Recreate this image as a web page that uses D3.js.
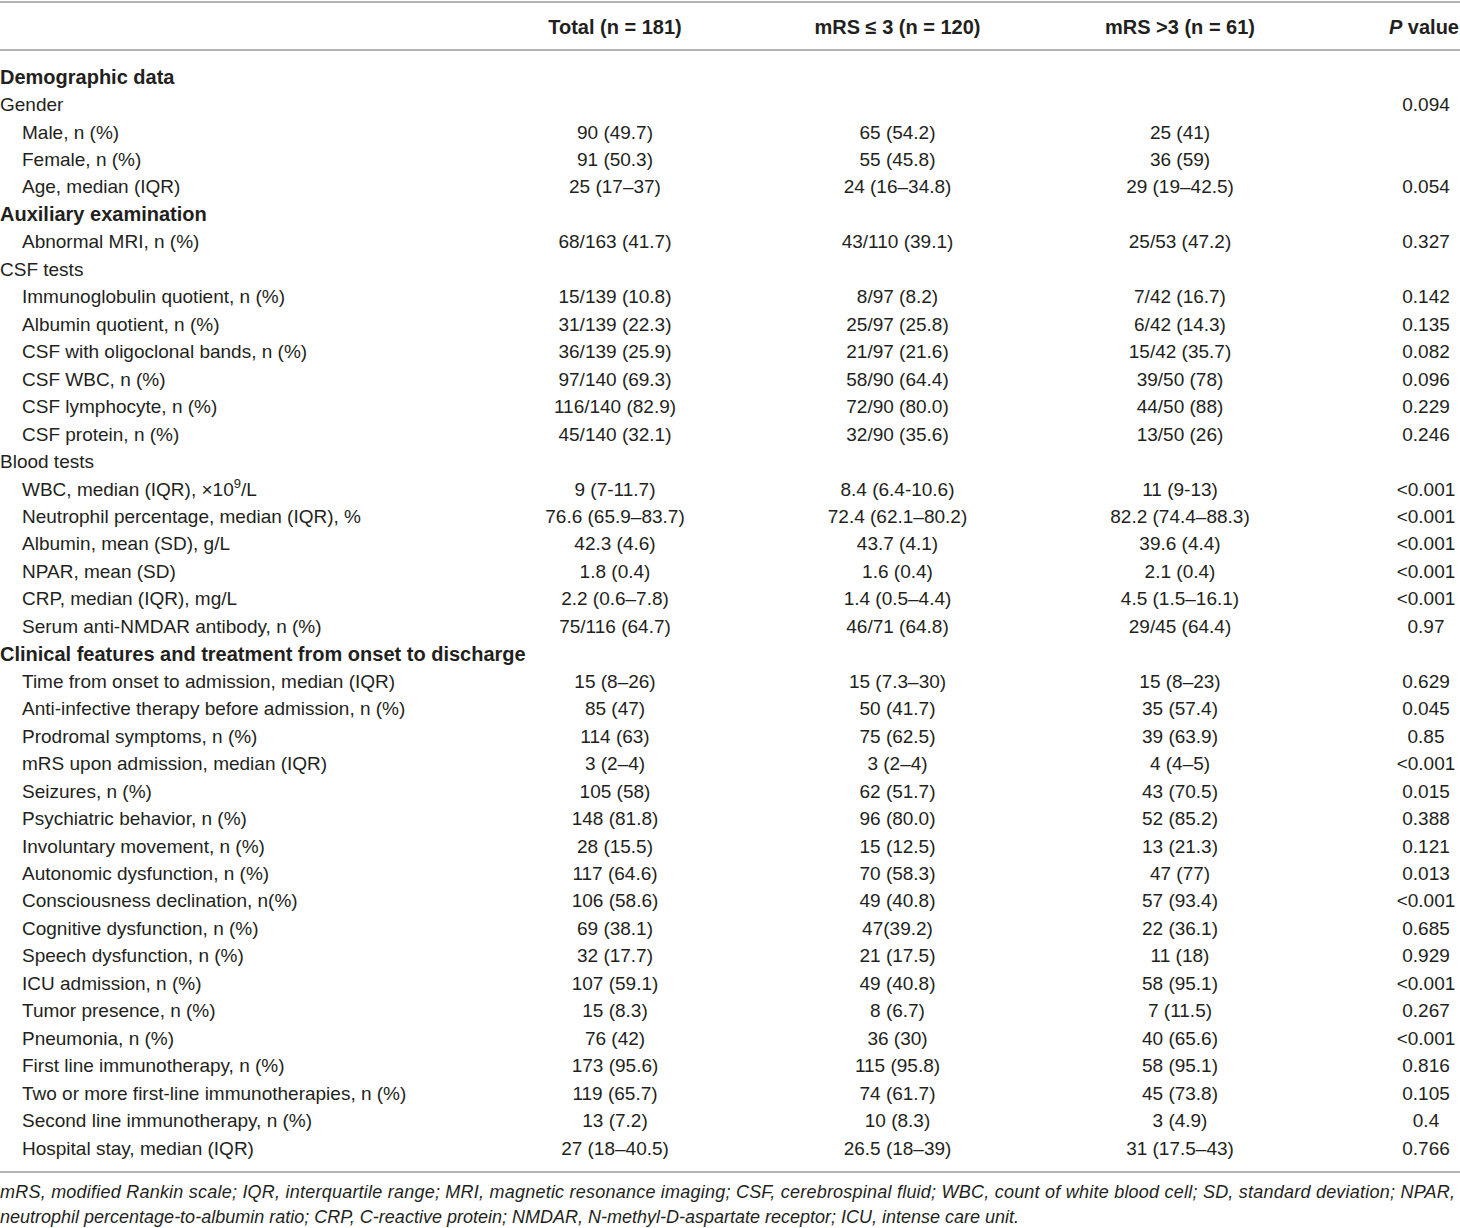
<!DOCTYPE html>
<html>
<head>
<meta charset="utf-8">
<script src="https://cdn.jsdelivr.net/npm/d3@7"></script>
<style>
  body { margin: 0; background: #fff; }
  svg text { font-family: "Liberation Sans", Arial, sans-serif; fill: #231f20; }
</style>
</head>
<body>
<div id="table"></div>
<script>
const headers = ["", "Total (n = 181)", "mRS \u2264 3 (n = 120)", "mRS >3 (n = 61)", "P value"];

// level 0 = section heading (bold), 1 = group label, 2 = indented item
const labels = [
  ["Demographic data", 0],
  ["Gender", 1],
  ["Male, n (%)", 2],
  ["Female, n (%)", 2],
  ["Age, median (IQR)", 2],
  ["Auxiliary examination", 0],
  ["Abnormal MRI, n (%)", 2],
  ["CSF tests", 1],
  ["Immunoglobulin quotient, n (%)", 2],
  ["Albumin quotient, n (%)", 2],
  ["CSF with oligoclonal bands, n (%)", 2],
  ["CSF WBC, n (%)", 2],
  ["CSF lymphocyte, n (%)", 2],
  ["CSF protein, n (%)", 2],
  ["Blood tests", 1],
  ["WBC, median (IQR), \u00d710^9/L", 2],
  ["Neutrophil percentage, median (IQR), %", 2],
  ["Albumin, mean (SD), g/L", 2],
  ["NPAR, mean (SD)", 2],
  ["CRP, median (IQR), mg/L", 2],
  ["Serum anti-NMDAR antibody, n (%)", 2],
  ["Clinical features and treatment from onset to discharge", 0],
  ["Time from onset to admission, median (IQR)", 2],
  ["Anti-infective therapy before admission, n (%)", 2],
  ["Prodromal symptoms, n (%)", 2],
  ["mRS upon admission, median (IQR)", 2],
  ["Seizures, n (%)", 2],
  ["Psychiatric behavior, n (%)", 2],
  ["Involuntary movement, n (%)", 2],
  ["Autonomic dysfunction, n (%)", 2],
  ["Consciousness declination, n(%)", 2],
  ["Cognitive dysfunction, n (%)", 2],
  ["Speech dysfunction, n (%)", 2],
  ["ICU admission, n (%)", 2],
  ["Tumor presence, n (%)", 2],
  ["Pneumonia, n (%)", 2],
  ["First line immunotherapy, n (%)", 2],
  ["Two or more first-line immunotherapies, n (%)", 2],
  ["Second line immunotherapy, n (%)", 2],
  ["Hospital stay, median (IQR)", 2]
];

const totalValues = [
  "", "", "90 (49.7)", "91 (50.3)", "25 (17\u201337)",
  "", "68/163 (41.7)",
  "", "15/139 (10.8)", "31/139 (22.3)", "36/139 (25.9)", "97/140 (69.3)", "116/140 (82.9)", "45/140 (32.1)",
  "", "9 (7-11.7)", "76.6 (65.9\u201383.7)", "42.3 (4.6)", "1.8 (0.4)", "2.2 (0.6\u20137.8)", "75/116 (64.7)",
  "", "15 (8\u201326)", "85 (47)", "114 (63)", "3 (2\u20134)", "105 (58)", "148 (81.8)", "28 (15.5)",
  "117 (64.6)", "106 (58.6)", "69 (38.1)", "32 (17.7)", "107 (59.1)", "15 (8.3)", "76 (42)",
  "173 (95.6)", "119 (65.7)", "13 (7.2)", "27 (18\u201340.5)"
];

const lowValues = [
  "", "", "65 (54.2)", "55 (45.8)", "24 (16\u201334.8)",
  "", "43/110 (39.1)",
  "", "8/97 (8.2)", "25/97 (25.8)", "21/97 (21.6)", "58/90 (64.4)", "72/90 (80.0)", "32/90 (35.6)",
  "", "8.4 (6.4-10.6)", "72.4 (62.1\u201380.2)", "43.7 (4.1)", "1.6 (0.4)", "1.4 (0.5\u20134.4)", "46/71 (64.8)",
  "", "15 (7.3\u201330)", "50 (41.7)", "75 (62.5)", "3 (2\u20134)", "62 (51.7)", "96 (80.0)", "15 (12.5)",
  "70 (58.3)", "49 (40.8)", "47(39.2)", "21 (17.5)", "49 (40.8)", "8 (6.7)", "36 (30)",
  "115 (95.8)", "74 (61.7)", "10 (8.3)", "26.5 (18\u201339)"
];

const highValues = [
  "", "", "25 (41)", "36 (59)", "29 (19\u201342.5)",
  "", "25/53 (47.2)",
  "", "7/42 (16.7)", "6/42 (14.3)", "15/42 (35.7)", "39/50 (78)", "44/50 (88)", "13/50 (26)",
  "", "11 (9-13)", "82.2 (74.4\u201388.3)", "39.6 (4.4)", "2.1 (0.4)", "4.5 (1.5\u201316.1)", "29/45 (64.4)",
  "", "15 (8\u201323)", "35 (57.4)", "39 (63.9)", "4 (4\u20135)", "43 (70.5)", "52 (85.2)", "13 (21.3)",
  "47 (77)", "57 (93.4)", "22 (36.1)", "11 (18)", "58 (95.1)", "7 (11.5)", "40 (65.6)",
  "58 (95.1)", "45 (73.8)", "3 (4.9)", "31 (17.5\u201343)"
];

const pValues = [
  "", "0.094", "", "", "0.054",
  "", "0.327",
  "", "0.142", "0.135", "0.082", "0.096", "0.229", "0.246",
  "", "<0.001", "<0.001", "<0.001", "<0.001", "<0.001", "0.97",
  "", "0.629", "0.045", "0.85", "<0.001", "0.015", "0.388", "0.121",
  "0.013", "<0.001", "0.685", "0.929", "<0.001", "0.267", "<0.001",
  "0.816", "0.105", "0.4", "0.766"
];

const footnotes = [
  "mRS, modified Rankin scale; IQR, interquartile range; MRI, magnetic resonance imaging; CSF, cerebrospinal fluid; WBC, count of white blood cell; SD, standard deviation; NPAR,",
  "neutrophil percentage-to-albumin ratio; CRP, C-reactive protein; NMDAR, N-methyl-D-aspartate receptor; ICU, intense care unit."
];

const width = 1460;
const height = 1228;
const fontSize = 19;
const boldSize = 20;

const svg = d3.select("#table")
  .append("svg")
  .attr("width", width)
  .attr("height", height);

// row centers
const y = d3.scaleLinear().domain([0, labels.length - 1]).range([77, 1148]);
// value column centers
const x = d3.scalePoint().domain([1, 2, 3]).range([615, 1180]);
const pX = 1426;

const columns = [totalValues, lowValues, highValues];

// rules
const rule = (yy) => svg.append("line")
  .attr("x1", 0).attr("x2", width)
  .attr("y1", yy).attr("y2", yy)
  .attr("stroke", "#9a9a9a").attr("stroke-width", 1.6);
rule(2);
rule(50);
rule(1172);

// header
const head = svg.append("g").attr("font-weight", "bold").attr("font-size", boldSize);
columns.forEach((_, i) => {
  head.append("text")
    .attr("x", x(i + 1))
    .attr("y", 27)
    .attr("dy", "0.35em")
    .attr("text-anchor", "middle")
    .text(headers[i + 1]);
});
const pHead = head.append("text")
  .attr("x", 1459)
  .attr("y", 27)
  .attr("dy", "0.35em")
  .attr("text-anchor", "end");
pHead.append("tspan").attr("font-style", "italic").text("P");
pHead.append("tspan").text(" value");

// labels
svg.append("g")
  .attr("font-size", fontSize)
  .selectAll("text")
  .data(labels)
  .join("text")
  .attr("x", (d) => d[1] === 2 ? 22 : 0)
  .attr("y", (d, i) => y(i))
  .attr("dy", "0.35em")
  .attr("font-weight", (d) => d[1] === 0 ? "bold" : null)
  .attr("font-size", (d) => d[1] === 0 ? boldSize : null)
  .each(function (d) {
    const t = d3.select(this);
    if (d[0].includes("^")) {
      const [base, rest] = d[0].split("^");
      t.append("tspan").text(base);
      t.append("tspan").attr("font-size", 13).attr("dy", "-0.55em").text(rest[0]);
      t.append("tspan").attr("dy", "0.38em").text(rest.slice(1));
    } else {
      t.text(d[0]);
    }
  });

// value columns
columns.forEach((vals, ci) => {
  svg.append("g")
    .attr("font-size", fontSize)
    .attr("text-anchor", "middle")
    .selectAll("text")
    .data(vals)
    .join("text")
    .attr("x", x(ci + 1))
    .attr("y", (d, i) => y(i))
    .attr("dy", "0.35em")
    .text((d) => d);
});

svg.append("g")
  .attr("font-size", fontSize)
  .attr("text-anchor", "middle")
  .selectAll("text")
  .data(pValues)
  .join("text")
  .attr("x", pX)
  .attr("y", (d, i) => y(i))
  .attr("dy", "0.35em")
  .text((d) => d);

// footnote (first line justified to full width)
svg.append("g")
  .attr("font-size", 18)
  .attr("font-style", "italic")
  .selectAll("text")
  .data(footnotes)
  .join("text")
  .attr("x", 0)
  .attr("y", (d, i) => 1192 + i * 25)
  .attr("dy", "0.35em")
  .attr("textLength", (d, i) => i === 0 ? 1455 : null)
  .attr("lengthAdjust", (d, i) => i === 0 ? "spacing" : null)
  .text((d) => d);
</script>
</body>
</html>
